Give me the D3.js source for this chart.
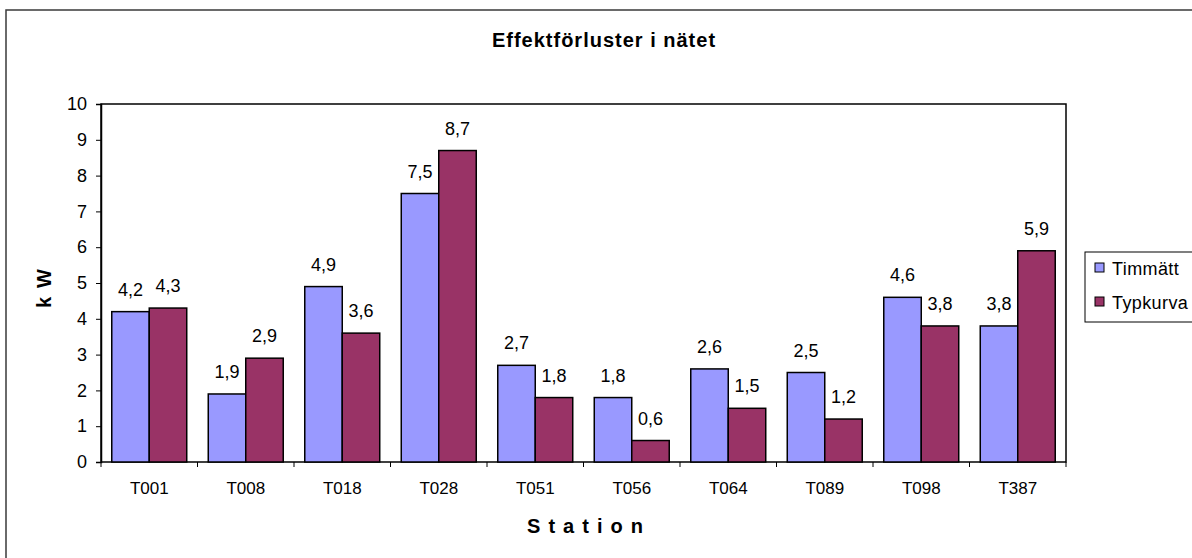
<!DOCTYPE html>
<html>
<head>
<meta charset="utf-8">
<script src="https://cdn.jsdelivr.net/npm/d3@7"></script>
<style>
  html, body { margin: 0; padding: 0; background: #fff; }
  svg { display: block; font-family: "Liberation Sans", Arial, sans-serif; }
</style>
</head>
<body>
<svg id="chart" width="1192" height="558"></svg>
<script>
// Stations and measured power losses (kW)
const stations = ["T001", "T008", "T018", "T028", "T051", "T056", "T064", "T089", "T098", "T387"];
const timmatt  = [4.2, 1.9, 4.9, 7.5, 2.7, 1.8, 2.6, 2.5, 4.6, 3.8];
const typkurva = [4.3, 2.9, 3.6, 8.7, 1.8, 0.6, 1.5, 1.2, 3.8, 5.9];
const seriesNames = ["Timmätt", "Typkurva"];
const seriesColors = ["#9999FF", "#993366"];
const yTicks = [0, 1, 2, 3, 4, 5, 6, 7, 8, 9, 10];

const FONT = "Liberation Sans, Arial, sans-serif";
const svg = d3.select("#chart");

// outer chart frame (continues past the visible canvas)
svg.append("rect")
  .attr("x", 6).attr("y", 10)
  .attr("width", 1400).attr("height", 800)
  .attr("fill", "#fff").attr("stroke", "#3a3a3a").attr("stroke-width", 1.5);

const plot = { left: 101, top: 104, right: 1066, bottom: 462 };

const x = d3.scaleBand().domain(stations).range([plot.left, plot.right]).paddingInner(0.223).paddingOuter(0.1115);
const xs = d3.scaleBand().domain(seriesNames).range([0, x.bandwidth()]);
const y = d3.scaleLinear().domain([0, 10]).range([plot.bottom, plot.top]);

// plot area
svg.append("rect")
  .attr("x", plot.left).attr("y", plot.top)
  .attr("width", plot.right - plot.left).attr("height", plot.bottom - plot.top)
  .attr("fill", "#fff").attr("stroke", "#000").attr("stroke-width", 1.5);

// title
svg.append("text")
  .attr("x", 604).attr("y", 47)
  .attr("text-anchor", "middle")
  .attr("font-size", 20).attr("font-weight", "bold")
  .attr("letter-spacing", 1)
  .text("Effektförluster i nätet");

// bars with value labels
const rows = seriesNames.map((name, i) => ({
  name, color: seriesColors[i], values: i === 0 ? timmatt : typkurva
}));

rows.forEach(r => {
  const g = svg.append("g");
  g.selectAll("rect").data(stations).join("rect")
    .attr("x", (d) => x(d) + xs(r.name))
    .attr("y", (d, i) => y(r.values[i]))
    .attr("width", xs.bandwidth())
    .attr("height", (d, i) => y(0) - y(r.values[i]))
    .attr("fill", r.color).attr("stroke", "#000").attr("stroke-width", 1.5);
  g.selectAll("text").data(stations).join("text")
    .attr("x", (d) => x(d) + xs(r.name) + xs.bandwidth() / 2)
    .attr("y", (d, i) => y(r.values[i]) - 16)
    .attr("text-anchor", "middle")
    .attr("font-size", 18)
    .text((d, i) => String(r.values[i]).replace(".", ","));
});

// y axis
const yAxis = svg.append("g")
  .attr("transform", `translate(${plot.left},0)`)
  .call(d3.axisLeft(y).tickValues(yTicks).tickSize(5).tickPadding(9));
yAxis.select(".domain").attr("stroke", "#000").attr("stroke-width", 1.5);
yAxis.selectAll(".tick line").attr("stroke", "#000");
yAxis.selectAll(".tick text").attr("font-size", 18).attr("font-family", FONT).attr("fill", "#000");

// x axis: labels centred on categories, tick marks between categories
const xAxis = svg.append("g")
  .attr("transform", `translate(0,${plot.bottom})`)
  .call(d3.axisBottom(x).tickSize(0).tickPadding(20));
xAxis.select(".domain").remove();
xAxis.selectAll(".tick text").attr("font-size", 17).attr("font-family", FONT).attr("fill", "#000");
svg.append("g").selectAll("line").data(d3.range(stations.length + 1)).join("line")
  .attr("x1", i => plot.left + i * (plot.right - plot.left) / stations.length)
  .attr("x2", i => plot.left + i * (plot.right - plot.left) / stations.length)
  .attr("y1", plot.bottom).attr("y2", plot.bottom + 5)
  .attr("stroke", "#000");

// axis titles
svg.append("text")
  .attr("x", 589).attr("y", 533)
  .attr("text-anchor", "middle")
  .attr("font-size", 20).attr("font-weight", "bold")
  .attr("letter-spacing", 8)
  .text("Station");

svg.append("text")
  .attr("transform", "translate(51,284) rotate(-90)")
  .attr("text-anchor", "middle")
  .attr("font-size", 20).attr("font-weight", "bold")
  .attr("letter-spacing", 9)
  .text("kW");

// legend
const legend = svg.append("g");
legend.append("rect")
  .attr("x", 1085).attr("y", 252).attr("width", 200).attr("height", 70)
  .attr("fill", "#fff").attr("stroke", "#000").attr("stroke-width", 1);
rows.forEach((r, i) => {
  legend.append("rect")
    .attr("x", 1095).attr("y", 263 + i * 34).attr("width", 9).attr("height", 9)
    .attr("fill", r.color).attr("stroke", "#000").attr("stroke-width", 1);
  legend.append("text")
    .attr("x", 1112).attr("y", 275 + i * 34)
    .attr("font-size", 18)
    .attr("letter-spacing", 0.4)
    .text(r.name);
});
</script>
</body>
</html>
